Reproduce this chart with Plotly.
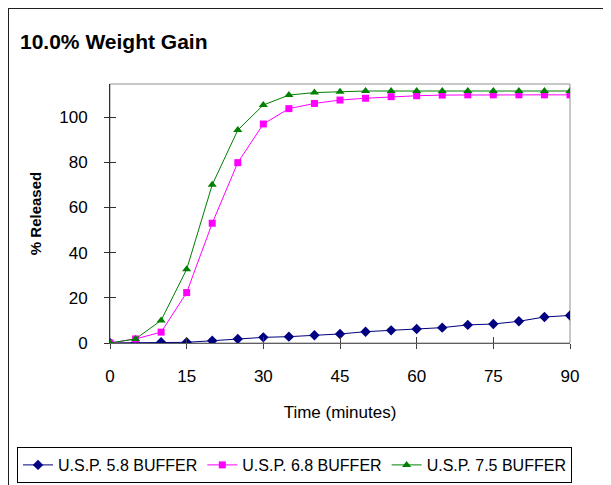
import plotly.graph_objects as go

time_min = [0, 5, 10, 15, 20, 25, 30, 35, 40, 45, 50, 55, 60, 65, 70, 75, 80, 85, 90]
usp_58 = [0, 0, 0.3, 0.3, 1.0, 1.8, 2.5, 2.8, 3.4, 4.0, 5.0, 5.6, 6.2, 6.8, 8.0, 8.4, 9.6, 11.5, 12.2]
usp_68 = [0, 1.8, 4.8, 22.3, 53.0, 79.8, 96.9, 103.7, 106.0, 107.5, 108.3, 109.0, 109.4, 109.7, 109.8, 109.8, 109.8, 109.8, 109.8]
usp_75 = [0, 1.8, 10.0, 32.6, 70.0, 94.2, 105.3, 109.7, 110.8, 111.2, 111.5, 111.5, 111.5, 111.5, 111.5, 111.5, 111.5, 111.5, 111.5]
series_names = ["U.S.P. 5.8 BUFFER", "U.S.P. 6.8 BUFFER", "U.S.P. 7.5 BUFFER"]
x_ticks = [0, 15, 30, 45, 60, 75, 90]
y_ticks = [0, 20, 40, 60, 80, 100]

FONT = "Arial, Liberation Sans, sans-serif"
OFF = 8  # page body margin
W, H = 611 - OFF, 485 - OFF
# plot area in screen pixels -> paper pixels
L, R, T, B = 110 - OFF, 570 - OFF, 84 - OFF, 343 - OFF

fig = go.Figure()
fig.add_trace(go.Scatter(x=time_min, y=usp_58, name=series_names[0], mode="lines+markers",
                         line=dict(color="#000080", width=1),
                         marker=dict(symbol="diamond", size=8, color="#000080")))
fig.add_trace(go.Scatter(x=time_min, y=usp_68, name=series_names[1], mode="lines+markers",
                         line=dict(color="#FF00FF", width=1),
                         marker=dict(symbol="square", size=7, color="#FF00FF")))
fig.add_trace(go.Scatter(x=time_min, y=usp_75, name=series_names[2], mode="lines+markers",
                         line=dict(color="#008000", width=1),
                         marker=dict(symbol="triangle-up", size=8, color="#008000")))
# invisible trace on overlay axes for inner tick marks
fig.add_trace(go.Scatter(x=[0], y=[0], xaxis="x2", yaxis="y2", showlegend=False,
                         mode="markers", marker=dict(opacity=0), hoverinfo="skip"))

def px(xs):
    return (xs - OFF - L) / (R - L)

def py(ys):
    return (B - (ys - OFF)) / (B - T)

fig.update_layout(
    template="none",
    width=W, height=H,
    margin=dict(l=L, r=W - R, t=T, b=H - B, pad=0, autoexpand=False),
    paper_bgcolor="white", plot_bgcolor="white",
    font=dict(family=FONT, color="black"),
    title=dict(text="<b>10.0% Weight Gain</b>", x=(20 - OFF) / W, xanchor="left", xref="container",
               y=1 - (42 - OFF) / H, yanchor="middle", yref="container",
               font=dict(size=21, family=FONT, color="black")),
    xaxis=dict(range=[0, 90], tickvals=x_ticks, ticks="outside", ticklen=5, tickcolor="#404040",
               showline=True, linecolor="#606060", linewidth=1, showgrid=False, zeroline=False,
               automargin=False,
               tickfont=dict(size=17), ticklabelstandoff=13,
               title=dict(text="Time (minutes)", font=dict(size=17), standoff=20)),
    yaxis=dict(range=[0, 114.6], tickvals=y_ticks, ticks="outside", ticklen=5, tickcolor="#303030",
               showline=True, linecolor="#303030", linewidth=1, showgrid=False, zeroline=False,
               automargin=False,
               tickfont=dict(size=17), ticklabelstandoff=13,
               title=dict(text="<b>% Released</b>", font=dict(size=15), standoff=13)),
    xaxis2=dict(overlaying="x", matches="x", side="bottom", anchor="y2", range=[0, 90],
                tickvals=x_ticks, ticks="inside", ticklen=6, tickcolor="#404040",
                showticklabels=False, showgrid=False, zeroline=False, showline=False,
                automargin=False),
    yaxis2=dict(overlaying="y", side="left", anchor="x2", range=[0, 114.6],
                tickvals=y_ticks, ticks="inside", ticklen=6, tickcolor="#303030",
                showticklabels=False, showgrid=False, zeroline=False, showline=False,
                automargin=False),
    legend=dict(orientation="h", x=px(17), xanchor="left", y=py(447), yanchor="top",
                bgcolor="white", bordercolor="black", borderwidth=1,
                font=dict(size=16, family=FONT), itemwidth=30, traceorder="normal"),
    shapes=[
        # plot area border (top/right gray)
        dict(type="rect", xref="paper", yref="paper", x0=0, x1=1, y0=0, y1=1,
             line=dict(color="#909090", width=1), layer="below"),
        # outer chart border: left and top (paper edges)
        dict(type="line", xref="paper", yref="paper", x0=px(8.5), x1=px(8.5), y0=py(7.5), y1=py(500),
             line=dict(color="#202020", width=1)),
        dict(type="line", xref="paper", yref="paper", x0=px(8.5), x1=px(640), y0=py(8.5), y1=py(8.5),
             line=dict(color="#202020", width=1)),
    ],
    showlegend=True,
)

fig.write_html("out.html")
